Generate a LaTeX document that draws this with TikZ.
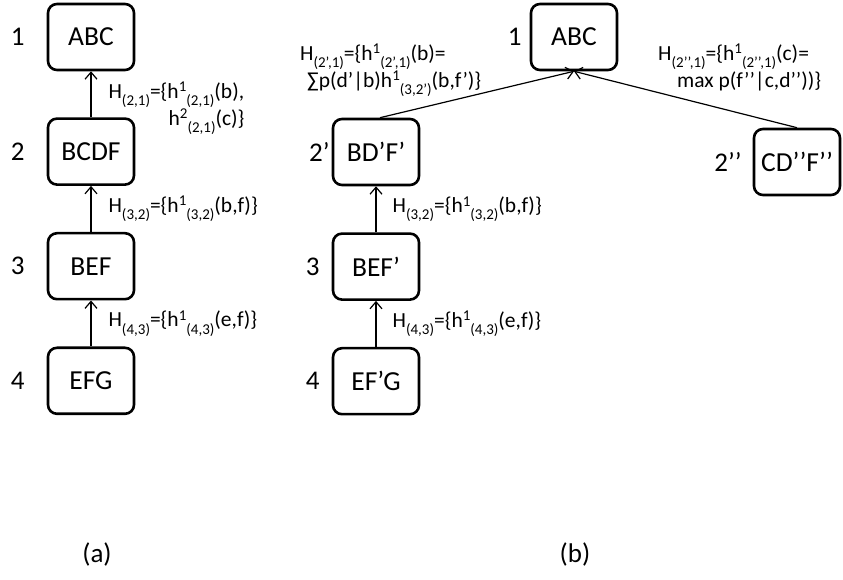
\documentclass[tikz,border=0pt]{standalone}
\usepackage{fontspec}
\setmainfont{Carlito}
\usepackage{tikz}
\usetikzlibrary{arrows.meta, positioning}

\newcommand{\hsub}[1]{\raisebox{-0.33em}{\fontsize{15}{15}\selectfont #1}}
\newcommand{\hsup}[1]{\raisebox{0.3em}{\fontsize{15}{15}\selectfont #1}}

\begin{document}
\begin{tikzpicture}[x=1pt,y=1pt,node distance=46pt,auto]
    \tikzstyle{cluster}=[shape=rectangle,rounded corners=9pt,line width=2.6pt,draw,minimum width=86pt,minimum height=66pt,font=\fontsize{27.5}{30}\selectfont]
    \tikzstyle{num}=[inner sep=0pt,font=\fontsize{27}{30}\selectfont]
    \tikzstyle{msg}=[inner sep=0pt,align=left,font=\fontsize{21.5}{27}\selectfont]
    \tikzstyle{panel}=[font=\fontsize{27}{30}\selectfont]
    \tikzstyle{link}=[-{Straight Barb[length=7pt,width=12pt]}, draw, line width=1.2pt]

    \useasboundingbox (0,0) rectangle (843,580);

    % (a)
    \node[cluster] (A1) at (91,543) {ABC};
    \node[cluster, below=of A1] (A2) {BCDF};
    \node[cluster, below=of A2] (A3) {BEF};
    \node[cluster, below=of A3] (A4) {EFG};
    \node[num, left=22pt of A1] (nA1) {1};
    \node[num, left=22pt of A2] (nA2) {2};
    \node[num, left=22pt of A3] (nA3) {3};
    \node[num, left=22pt of A4] (nA4) {4};

    % (b)
    \node[cluster] (B1) at (574,543) {ABC};
    \node[cluster] (B2) at (376,428) {BD’F’};
    \node[cluster, below=of B2] (B3) {BEF’};
    \node[cluster, below=of B3] (B4) {EF’G};
    \node[cluster] (C2) at (797,418) {CD’’F’’};
    \node[num, left=8pt of B1] (nB1) {1};
    \node[num, left=2pt of B2] (nB2) {2’};
    \node[num, left=12pt of B3] (nB3) {3};
    \node[num, left=12pt of B4] (nB4) {4};
    \node[num, left=11pt of C2] (nC2) {2’’};

    \path[link]
    (A2) edge node[msg, right, xshift=17pt, yshift=-14pt] (hA21) {H\hsub{(2,1)}=\{h\hsup{1}\hsub{(2,1)}(b),\\\hspace*{60pt}h\hsup{2}\hsub{(2,1)}(c)\}} (A1)
    (A3) edge node[msg, right, xshift=17pt] (hA32) {H\hsub{(3,2)}=\{h\hsup{1}\hsub{(3,2)}(b,f)\}} (A2)
    (A4) edge node[msg, right, xshift=17pt] (hA43) {H\hsub{(4,3)}=\{h\hsup{1}\hsub{(4,3)}(e,f)\}} (A3)
    (B3) edge node[msg, right, xshift=16pt] (hB32) {H\hsub{(3,2)}=\{h\hsup{1}\hsub{(3,2)}(b,f)\}} (B2)
    (B4) edge node[msg, right, xshift=16pt] (hB43) {H\hsub{(4,3)}=\{h\hsup{1}\hsub{(4,3)}(e,f)\}} (B3)
    ;

    \draw[link] ([xshift=4pt]B2.north) -- (B1.south);
    \draw[link] (C2.north) -- (B1.south);

    \node[msg, anchor=north west] (hB21) at (300,536) {H\hsub{(2’,1)}=\{h\hsup{1}\hsub{(2’,1)}(b)=\\\hspace*{7pt}∑p(d’|b)h\hsup{1}\hsub{(3,2’)}(b,f’)\}};
    \node[msg, anchor=north west] (hC21) at (658,536) {H\hsub{(2’’,1)}=\{h\hsup{1}\hsub{(2’’,1)}(c)=\\\hspace*{19pt}max p(f’’|c,d’’))\}};

    \node[panel] (pa) at (97,25) {(a)};
    \node[panel] (pb) at (575,25) {(b)};
\end{tikzpicture}
\end{document}
